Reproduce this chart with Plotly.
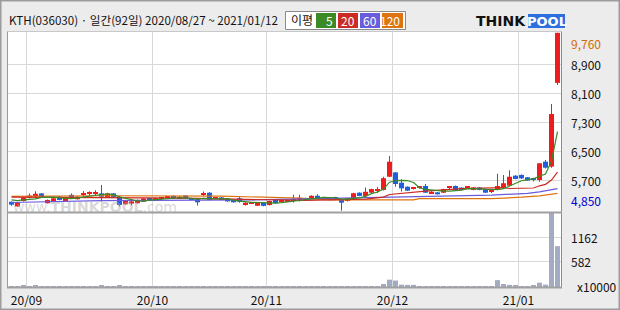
import plotly.graph_objects as go

W, H = 620, 310
FONT = "Noto Sans CJK KR"

# ---------------- data ----------------
title_text = "KTH(036030) · 일간(92일) 2020/08/27 ~ 2021/01/12"
x_tick_idx = [3, 24, 43, 64, 85]           # first trading day of each month
x_tick_text = ["20/09", "20/10", "20/11", "20/12", "21/01"]
price_grid = [5700, 6500, 7300, 8100, 8900]
price_grid_text = ["5,700", "6,500", "7,300", "8,100", "8,900"]
price_max, price_min = 9760, 4850
vol_grid = [582, 1162]
vol_grid_text = ["582", "1162"]

opens = [5100, 4970, 5120, 5210, 5250, 5330, 5060, 5100, 5240, 5120,
         5290, 5170, 5290, 5330, 5330, 5330, 5220, 5330, 5240, 5030,
         5050, 5060, 5100, 5190, 5150, 5190, 5205, 5260, 5190, 5270,
         5190, 5170, 5310, 5350, 5200, 5220, 5195, 5150, 5195, 5010,
         5060, 4990, 5075, 5010, 5150, 5120, 5100, 5175, 5120, 5150,
         5195, 5265, 5170, 5150, 5230, 5175, 5120, 5170, 5350, 5260,
         5350, 5420, 5425, 5790, 5910, 5625, 5515, 5470, 5490, 5535,
         5335, 5360, 5350, 5485, 5535, 5490, 5495, 5425, 5495, 5450,
         5375, 5445, 5500, 5545, 5820, 5840, 5775, 5755, 5700, 6205,
         6070, 8380]
highs = [5110, 5090, 5230, 5330, 5390, 5340, 5160, 5210, 5250, 5230,
         5330, 5250, 5400, 5390, 5420, 5560, 5350, 5340, 5250, 5130,
         5120, 5160, 5200, 5200, 5210, 5220, 5240, 5270, 5250, 5280,
         5200, 5180, 5380, 5360, 5230, 5230, 5200, 5160, 5240, 5080,
         5080, 5080, 5080, 5130, 5160, 5150, 5160, 5290, 5290, 5210,
         5280, 5310, 5240, 5220, 5240, 5180, 5200, 5345, 5360, 5490,
         5460, 5510, 5790, 6360, 5920, 5720, 5520, 5510, 5520, 5590,
         5390, 5370, 5460, 5530, 5545, 5500, 5520, 5510, 5505, 5460,
         5400, 5870, 5840, 5970, 5830, 5850, 5780, 5760, 6170, 6250,
         7800, 9760]
lows = [4990, 4960, 5110, 5200, 5200, 5210, 5050, 5090, 5140, 5110,
        5200, 5160, 5240, 5260, 5260, 5110, 5210, 5210, 4970, 5020,
        5000, 5050, 5090, 5140, 5140, 5170, 5190, 5190, 5180, 5180,
        5140, 4995, 5250, 5140, 5180, 5140, 5100, 5080, 5070, 5000,
        5040, 4980, 4975, 5000, 5050, 5100, 5090, 5080, 5110, 5140,
        5190, 5190, 5160, 5140, 5140, 4850, 5110, 5160, 5250, 5250,
        5340, 5340, 5410, 5780, 5515, 5380, 5400, 5440, 5460, 5340,
        5320, 5300, 5340, 5450, 5420, 5420, 5460, 5420, 5420, 5340,
        5350, 5430, 5490, 5530, 5720, 5730, 5680, 5660, 5650, 6020,
        6040, 8320]
closes = [5020, 5080, 5210, 5270, 5320, 5220, 5150, 5195, 5150, 5210,
          5220, 5240, 5330, 5340, 5340, 5240, 5330, 5220, 5010, 5120,
          5110, 5150, 5190, 5150, 5200, 5195, 5210, 5195, 5240, 5195,
          5150, 5085, 5315, 5150, 5210, 5150, 5110, 5085, 5100, 5075,
          5065, 5075, 4985, 5120, 5060, 5125, 5150, 5130, 5210, 5195,
          5265, 5195, 5230, 5210, 5150, 5075, 5195, 5335, 5260, 5375,
          5450, 5425, 5750, 6205, 5590, 5470, 5405, 5475, 5490, 5350,
          5375, 5305, 5450, 5490, 5425, 5425, 5500, 5495, 5425, 5350,
          5380, 5535, 5610, 5790, 5730, 5745, 5685, 5700, 6160, 6040,
          7520, 9760]
volumes = [22, 18, 24, 22, 24, 20, 17, 19, 16, 18,
           20, 17, 22, 20, 21, 24, 19, 18, 24, 17,
           16, 15, 14, 16, 14, 15, 14, 13, 15, 14,
           15, 17, 20, 18, 14, 13, 13, 14, 13, 15,
           12, 13, 15, 13, 12, 13, 14, 16, 17, 15,
           14, 15, 13, 12, 14, 22, 14, 18, 17, 22,
           20, 22, 70, 170, 150, 55, 50, 50, 20, 22,
           18, 17, 19, 18, 17, 16, 18, 20, 17, 18,
           19, 160, 70, 50, 24, 22, 20, 24, 100, 55,
           1743, 950]

ma5 = [5150, 5130, 5150, 5160, 5180, 5220, 5235, 5230, 5205, 5185,
       5185, 5205, 5230, 5270, 5295, 5300, 5315, 5295, 5230, 5185,
       5160, 5120, 5115, 5145, 5160, 5175, 5190, 5190, 5210, 5205,
       5200, 5175, 5195, 5180, 5180, 5180, 5185, 5140, 5130, 5105,
       5085, 5080, 5060, 5065, 5060, 5075, 5090, 5115, 5135, 5160,
       5190, 5200, 5220, 5220, 5210, 5170, 5170, 5195, 5205, 5250,
       5325, 5370, 5450, 5640, 5685, 5690, 5685, 5630, 5485, 5440,
       5420, 5400, 5395, 5395, 5410, 5420, 5460, 5465, 5455, 5440,
       5430, 5435, 5460, 5535, 5610, 5680, 5710, 5730, 5805, 5865,
       6220, 7035]
ma20_x = [0, 19, 29, 39, 49, 59, 62, 63, 69, 75, 82, 83, 87, 88, 89, 90, 91]
ma20_v = [5225, 5210, 5200, 5165, 5140, 5170, 5230, 5300, 5395, 5460, 5490,
          5465, 5480, 5540, 5580, 5700, 5920]
ma60_x = [0, 15, 40, 53, 58, 62, 77, 80, 86, 88, 91]
ma60_v = [5080, 5130, 5150, 5190, 5210, 5230, 5260, 5285, 5330, 5370, 5460]
ma120_x = [0, 15, 35, 41, 48, 53, 67, 68, 80, 85, 88, 91]
ma120_v = [5250, 5265, 5255, 5230, 5200, 5150, 5150, 5185, 5185, 5225, 5260, 5330]

ma_colors = {"5": "#3B8A26", "20": "#CC2A24", "60": "#6A5CDC", "120": "#DE7410"}
UP, DOWN = "#EE1C1C", "#1D5FDD"

# ---------------- geometry (pixels) ----------------
PL, PR = 8, 561
P_TOP, P_BOT = 32, 212
V_TOP, V_BOT = 213, 287
step = 6.0
x0 = -(11.5 - PL) / step
x1 = (PR - 11.5) / step
px_per_price = 29 / 800.0
y_lo = 5700 - (P_BOT - 180) / px_per_price
y_hi = 5700 + (180 - P_TOP) / px_per_price
vol_hi = 1162 * (V_BOT - V_TOP) / 50.0


def fx(px):
    return px / W


def fy(py):
    return 1 - py / H


n = len(closes)
idx = list(range(n))
min_body = 1.0 / px_per_price
colors = [UP if c >= o else DOWN for o, c in zip(opens, closes)]
body_base = [min(o, c) for o, c in zip(opens, closes)]
body_h = [max(abs(c - o), min_body) for o, c in zip(opens, closes)]
wick_h = [h - l for h, l in zip(highs, lows)]

fig = go.Figure()

# moving averages
fig.add_trace(go.Scatter(x=ma120_x, y=ma120_v, mode="lines",
                         line=dict(color=ma_colors["120"], width=1.2), xaxis="x", yaxis="y"))
fig.add_trace(go.Scatter(x=ma60_x, y=ma60_v, mode="lines",
                         line=dict(color=ma_colors["60"], width=1.2), xaxis="x", yaxis="y"))
fig.add_trace(go.Scatter(x=ma20_x, y=ma20_v, mode="lines",
                         line=dict(color=ma_colors["20"], width=1.2), xaxis="x", yaxis="y"))
fig.add_trace(go.Scatter(x=idx, y=ma5, mode="lines",
                         line=dict(color=ma_colors["5"], width=1.2), xaxis="x", yaxis="y"))

# wicks
fig.add_trace(go.Bar(x=idx, y=wick_h, base=lows, width=1.0 / step,
                     marker=dict(color=colors, line=dict(width=0)), xaxis="x", yaxis="y"))
# bodies
fig.add_trace(go.Bar(x=idx, y=body_h, base=body_base, width=5.0 / step,
                     marker=dict(color=colors, line=dict(width=0)), xaxis="x", yaxis="y"))
# volume
fig.add_trace(go.Bar(x=idx, y=volumes, width=5.0 / step,
                     marker=dict(color="#A3ABC2", line=dict(width=0)), xaxis="x2", yaxis="y2"))

grid_c = "#D9D9D9"
tickpos = [i - 0.5 for i in x_tick_idx]
fig.update_layout(
    width=W, height=H,
    margin=dict(l=0, r=0, t=0, b=0),
    paper_bgcolor="#ECECEC", plot_bgcolor="white",
    showlegend=False, barmode="overlay",
    font=dict(family=FONT, size=12, color="#111"),
    xaxis=dict(domain=[fx(PL), fx(PR)], range=[x0, x1], anchor="y",
               tickvals=tickpos, showticklabels=False, showgrid=True,
               gridcolor=grid_c, gridwidth=1, zeroline=False, ticks=""),
    yaxis=dict(domain=[fy(P_BOT), fy(P_TOP)], range=[y_lo, y_hi], anchor="x",
               tickvals=price_grid, showticklabels=False, showgrid=True,
               gridcolor=grid_c, gridwidth=1, zeroline=False, ticks=""),
    xaxis2=dict(domain=[fx(PL), fx(PR)], range=[x0, x1], anchor="y2",
                tickvals=tickpos, ticktext=x_tick_text, showticklabels=True,
                tickfont=dict(family=FONT, size=12, color="#111"),
                showgrid=True, gridcolor=grid_c, gridwidth=1, zeroline=False, ticks="",
                ticklabelstandoff=5),
    yaxis2=dict(domain=[fy(V_BOT), fy(V_TOP)], range=[0, vol_hi], anchor="x2",
                tickvals=vol_grid, showticklabels=False, showgrid=True,
                gridcolor=grid_c, gridwidth=1, zeroline=False, ticks=""),
)

shapes = []
# outer frame
shapes.append(dict(type="rect", xref="paper", yref="paper", x0=fx(0.75), x1=fx(619.25),
                   y0=fy(309.25), y1=fy(0.75), line=dict(color="#9C9C9C", width=1.5), layer="above"))
# plot frames
shapes.append(dict(type="line", xref="paper", yref="paper", x0=fx(PL), x1=fx(PR),
                   y0=fy(P_TOP - 0.5), y1=fy(P_TOP - 0.5), line=dict(color="#C8C8C8", width=1)))
shapes.append(dict(type="line", xref="paper", yref="paper", x0=fx(PL - 0.5), x1=fx(PL - 0.5),
                   y0=fy(V_BOT), y1=fy(P_TOP - 0.5), line=dict(color="#9A9A9A", width=1)))
shapes.append(dict(type="line", xref="paper", yref="paper", x0=fx(PR + 0.5), x1=fx(PR + 0.5),
                   y0=fy(V_BOT), y1=fy(P_TOP - 0.5), line=dict(color="#8C8C8C", width=1)))
shapes.append(dict(type="line", xref="paper", yref="paper", x0=fx(PL - 1), x1=fx(PR + 1),
                   y0=fy(P_BOT + 0.5), y1=fy(P_BOT + 0.5), line=dict(color="#A0A0A0", width=2)))
shapes.append(dict(type="line", xref="paper", yref="paper", x0=fx(PL - 1), x1=fx(PR + 1),
                   y0=fy(V_BOT + 0.5), y1=fy(V_BOT + 0.5), line=dict(color="#A0A0A0", width=2)))
# MA legend box
shapes.append(dict(type="rect", xref="paper", yref="paper", x0=fx(285.5), x1=fx(405.5),
                   y0=fy(29.5), y1=fy(11.5), fillcolor="white", line=dict(color="#8A8A8A", width=1)))
leg_boxes = [(316, 336, "5"), (338, 358, "20"), (360, 380, "60"), (382, 403, "120")]
for a, b, k in leg_boxes:
    shapes.append(dict(type="rect", xref="paper", yref="paper", x0=fx(a), x1=fx(b),
                       y0=fy(28), y1=fy(13), fillcolor=ma_colors[k], line=dict(width=0)))
# THINKPOOL logo blue block
shapes.append(dict(type="rect", xref="paper", yref="paper", x0=fx(528), x1=fx(565),
                   y0=fy(28), y1=fy(14), fillcolor="#2E6FE0", line=dict(width=0)))
fig.update_layout(shapes=shapes)

ann = []
ann.append(dict(text=title_text, x=fx(7), y=fy(20), xref="paper", yref="paper",
                xanchor="left", yanchor="middle", showarrow=False,
                font=dict(family=FONT, size=11.6, color="#111")))
ann.append(dict(text="이평", x=fx(289), y=fy(20), xref="paper", yref="paper",
                xanchor="left", yanchor="middle", showarrow=False,
                font=dict(family=FONT, size=12, color="#111")))
for a, b, k in leg_boxes:
    ann.append(dict(text=k, x=fx(b - 1), y=fy(20.5), xref="paper", yref="paper",
                    xanchor="right", yanchor="middle", showarrow=False,
                    font=dict(family=FONT, size=12, color="white")))
ann.append(dict(text="<b>THINK</b>", x=fx(528), y=fy(21.5), xref="paper", yref="paper",
                xanchor="right", yanchor="middle", showarrow=False,
                font=dict(family="DejaVu Sans", size=14, color="#111")))
ann.append(dict(text="<b>POOL</b>", x=fx(546.5), y=fy(21.5), xref="paper", yref="paper",
                xanchor="center", yanchor="middle", showarrow=False,
                font=dict(family="DejaVu Sans", size=13, color="white")))
# watermark
ann.append(dict(text="www.<b>THINKPOOL</b>.com", x=fx(95), y=fy(207), xref="paper", yref="paper",
                xanchor="center", yanchor="middle", showarrow=False,
                font=dict(family="DejaVu Sans", size=14, color="rgba(170,170,170,0.45)")))
# right price labels
LX = fx(569)
for v, t in zip(price_grid, price_grid_text):
    ann.append(dict(text=t, x=LX, y=v, xref="paper", yref="y", xanchor="left",
                    yanchor="middle", showarrow=False,
                    font=dict(family=FONT, size=12, color="#111")))
ann.append(dict(text="9,760", x=LX, y=price_max, xref="paper", yref="y", xanchor="left",
                yanchor="top", showarrow=False, font=dict(family=FONT, size=12, color="#D26A00")))
ann.append(dict(text="4,850", x=LX, y=price_min, xref="paper", yref="y", xanchor="left",
                yanchor="bottom", showarrow=False, font=dict(family=FONT, size=12, color="#0000D0")))
for v, t in zip(vol_grid, vol_grid_text):
    ann.append(dict(text=t, x=LX, y=v, xref="paper", yref="y2", xanchor="left",
                    yanchor="middle", showarrow=False,
                    font=dict(family=FONT, size=12, color="#111")))
ann.append(dict(text="x10000", x=fx(575), y=fy(286), xref="paper", yref="paper",
                xanchor="left", yanchor="middle", showarrow=False,
                font=dict(family=FONT, size=12, color="#111")))
fig.update_layout(annotations=ann)

fig.write_html("out.html")
